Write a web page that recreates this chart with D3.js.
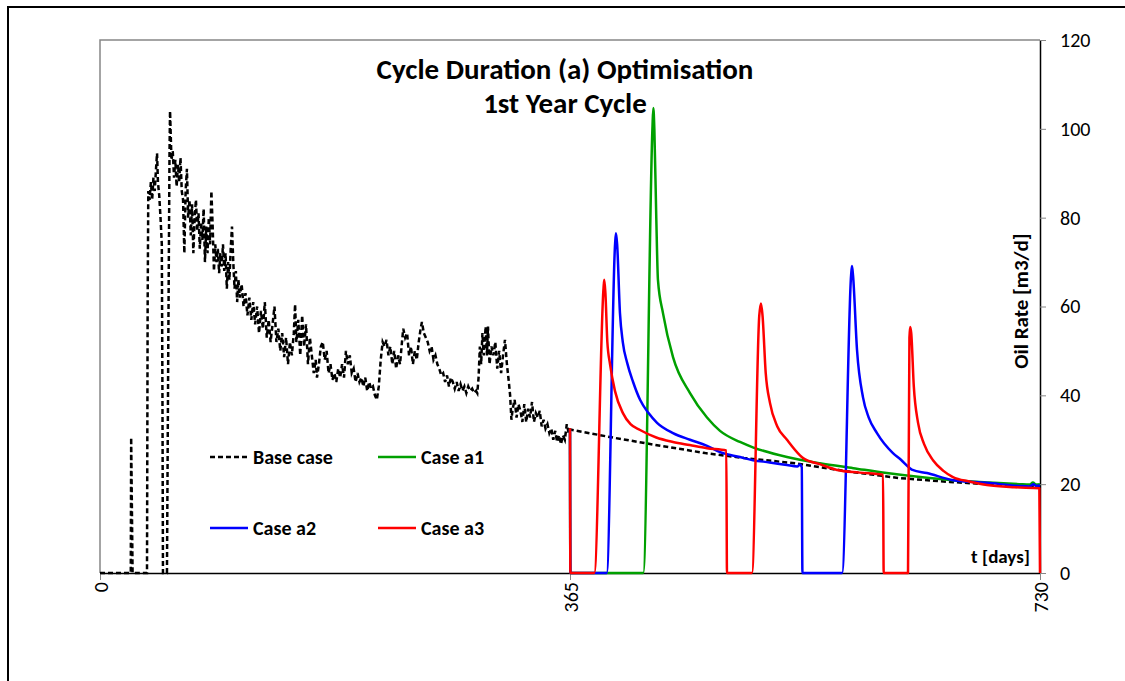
<!DOCTYPE html>
<html>
<head>
<meta charset="utf-8">
<script src="https://cdn.jsdelivr.net/npm/d3@7"></script>
<style>
  body { margin: 0; background: #fff; }
  svg { display: block; font-family: Carlito, Lato, "Open Sans", sans-serif; }
</style>
</head>
<body>
<svg id="chart" width="1125" height="681"></svg>
<script>
// Series: [day, oil rate m3/d]
const baseCase = [
  [0, 0], [23.9, 0], [24.2, 30.5], [25.3, 0], [36.5, 0], [37, 60], [37.5, 86], [38.5, 84], [39.5, 88],
  [40.5, 84], [41.5, 89], [42.5, 86], [43.5, 91], [44.3, 94.5], [45, 88], [46, 85], [47, 80], [48, 74],
  [48.5, 40], [48.9, 0], [52, 0], [53, 50], [54, 95], [54.4, 104],
  [55.5, 93], [56.5, 95], [57.5, 89], [58.5, 93], [59.5, 87], [60.5, 92], [61.5, 88], [62.5, 93.5],
  [63.5, 86], [64.5, 84], [65.5, 72], [66.5, 86], [67.5, 91], [68.5, 80], [69.5, 84], [70.5, 76],
  [71.5, 83], [72.5, 72], [73.5, 80], [74.5, 84], [75.5, 77], [76.5, 81], [77.5, 73], [78.5, 79],
  [79.5, 75], [80.5, 82], [81.5, 70], [82.5, 78], [83.5, 72], [84.5, 80], [85.5, 74], [86.5, 86],
  [87.5, 78], [88.5, 68], [89.5, 74], [90.5, 70], [91.5, 73], [92.5, 67.5], [93.5, 72], [94.5, 69],
  [95.5, 74], [96.5, 68], [97.5, 72], [98.5, 64], [99.5, 70], [100.5, 66], [101.5, 73], [102.5, 78],
  [103.5, 70], [104.5, 64], [105.5, 68], [106.5, 61], [107.5, 66], [108.5, 62], [110, 65], [111.5, 60],
  [113, 63], [114.5, 58], [116, 62], [117.5, 57], [119, 61], [120.5, 56], [122, 60], [123.5, 54],
  [125, 59], [126.5, 55], [128, 61], [129.5, 53], [131, 57], [132.5, 52], [134, 56], [135.5, 60],
  [137, 52], [138.5, 55], [140, 50], [141.5, 54], [143, 48.6], [144.5, 53], [146, 47], [147.5, 52],
  [149, 49], [150.5, 54], [151.5, 60.5], [152.5, 52], [154, 57], [155.5, 49], [157, 58], [158.5, 51],
  [160, 56], [161.5, 47], [163, 53], [164.5, 49], [166, 45], [167.5, 48], [168.5, 44], [170, 47],
  [171.5, 51], [173, 52], [174.5, 48], [176, 50], [177.5, 45], [179, 47], [180.5, 43.5], [182, 45],
  [183.5, 43], [185, 46], [186.5, 44], [188, 47], [189.5, 44], [191, 50], [192.5, 47], [194, 49],
  [195.5, 45], [197, 46], [198.5, 43], [200, 45], [201.5, 43], [203, 44], [204.5, 42], [206, 44],
  [207.5, 41], [209, 43], [210.5, 41.5], [212, 42], [213.5, 40], [215, 39], [216.5, 42], [218, 48],
  [219.5, 52], [221, 51], [222.5, 52.5], [224, 49], [225.5, 51], [227, 47], [228.5, 50], [230, 46],
  [231.5, 49], [233, 47], [234.5, 52], [235.5, 55], [237, 53], [238.5, 54], [240, 49], [241.5, 51],
  [243, 47], [244.5, 50], [246, 48], [247.5, 52], [249, 55], [250, 56.5], [251.5, 54], [253, 53],
  [254.5, 52], [256, 50], [257.5, 51], [259, 48], [260.5, 49], [262, 47], [263.5, 46], [265, 44.5],
  [266.5, 45], [268, 43], [269.5, 44.5], [271, 42], [272.5, 44], [274, 43], [275.5, 41.5], [277, 43],
  [278.5, 41], [280, 42.5], [281.5, 41], [283, 42], [284.5, 40.5], [286, 42], [287.5, 41], [289, 41.5],
  [290.5, 40.5], [292, 41], [293, 40.5], [294, 44], [295, 51], [296, 47], [297, 54], [298, 49],
  [299.5, 55.5], [300.5, 49], [301.3, 55.5], [302.5, 47], [304, 51], [305.5, 49], [307, 52], [308.5, 46],
  [310, 50], [311.5, 45], [313, 49], [314.5, 52.5], [316, 47], [317.5, 43], [318.5, 40], [319.5, 34.5],
  [320.5, 37], [322, 39], [323.5, 35], [325, 38], [326.5, 36.5], [328, 34], [329.5, 38], [331, 34],
  [332.5, 37], [334, 35], [335.5, 38.5], [337, 34], [338.5, 36], [340, 35], [341.5, 36.5], [343, 33],
  [344.5, 34.5], [346, 32.5], [347.5, 33.5], [349, 31.5], [350.5, 32.5], [352, 30], [353.5, 32],
  [355, 29.5], [356.5, 31], [358, 29], [359.5, 31], [361, 30], [362.5, 33.5], [364, 31.5], [365, 32.3],
  [400, 30.4], [430, 28.9], [470, 27], [500, 25.9], [540, 24.7], [580, 22.9], [620, 21.4],
  [660, 20.5], [700, 19.8], [730, 19.5]
];

const caseA1 = [
  [365, 32.3], [365.3, 0], [421.9, 0], [429, 100], [429.7, 104.7], [430.5, 100], [432, 80], [433.3, 66],
  [437.2, 58.5], [445, 48.6], [458.2, 40.5], [471.4, 35], [481.5, 32], [497, 29.5], [507, 28.3],
  [533.5, 26.1], [559, 24.7], [585, 23.6], [611, 22.5], [637, 21.6], [662, 20.9], [689, 20.4],
  [714, 20], [722, 19.9], [724.5, 20.4], [727, 19.9], [730, 20]
];

const caseA2 = [
  [365, 32.3], [365.3, 0], [393.5, 0], [400, 74], [400.7, 76.5], [401.6, 74], [403.8, 58.5], [406, 52],
  [409.4, 47.3], [414, 43], [419.4, 39], [426, 36], [432.6, 33.8], [445, 31.5], [458.2, 30], [471, 28.7],
  [481.5, 27.2], [497, 26.1], [507.1, 25.4], [520, 24.9], [533.5, 24.3], [541.5, 24], [543.5, 24.4],
  [545, 23.8], [545.5, 0], [576.3, 0], [583.3, 67], [584, 69.1], [584.8, 67], [587.9, 50.2], [592.5, 39.6],
  [597, 35], [603.4, 31.5], [615.8, 27], [622, 25.5], [629, 23.6], [631, 23.2], [642.2, 22.5],
  [662.4, 20.9], [688.8, 20.3], [714.5, 19.6], [722, 19.5], [725, 20], [727, 19.6], [730, 19.7]
];

const caseA3 = [
  [365, 32.6], [365.3, 0], [383.9, 0], [391, 64], [391.6, 66], [392.5, 63], [394, 52], [396.1, 47],
  [399.9, 41], [406.1, 36], [412, 33.5], [419.4, 32.2], [432, 30.5], [445, 29.5], [458, 28.8],
  [471.4, 28.1], [486.4, 27.6], [486.9, 0], [506.3, 0], [512, 58], [513.3, 60.7], [514.5, 58],
  [517, 45], [520.3, 38.3], [526, 33], [533.5, 30], [543.6, 26.5], [546, 25.9], [559, 24.5],
  [572.4, 23.2], [590, 22.6], [608.1, 22.1], [608.6, 0], [627.5, 0], [628.6, 53], [629.2, 55.4],
  [630, 54], [632, 42], [635.3, 33.8], [640, 29], [646.9, 25.4], [655, 23], [662.4, 21.6], [675, 20.6],
  [688.8, 19.8], [710, 19.3], [729.5, 19.1], [730, 0]
];

const seriesNames = ['Base case', 'Case a1', 'Case a2', 'Case a3'];
const seriesColors = ['#000000', '#00a000', '#0000ff', '#ff0000'];
const xTicks = [0, 365, 730];
const yTicks = [0, 20, 40, 60, 80, 100, 120];

const svg = d3.select('#chart');

// outer frame (runs off the right and bottom edges)
svg.append('rect')
  .attr('x', 8).attr('y', 7).attr('width', 1200).attr('height', 700)
  .attr('fill', 'none').attr('stroke', '#000').attr('stroke-width', 2);

const x = d3.scaleLinear().domain([0, 730]).range([100, 1040]);
const y = d3.scaleLinear().domain([0, 120]).range([573, 40]);

// plot area border (grey top + left)
svg.append('path')
  .attr('d', `M${x(0)},${y(0)}V${y(120)}H${x(730)}`)
  .attr('fill', 'none').attr('stroke', '#868686').attr('stroke-width', 1.5);

// axes
const yAxis = svg.append('g')
  .attr('transform', `translate(${x(730)},0)`)
  .call(d3.axisRight(y).tickValues(yTicks).tickSize(6).tickSizeOuter(0).tickPadding(14));
yAxis.select('.domain').attr('stroke', '#000').attr('stroke-width', 1.5);
yAxis.selectAll('.tick line').attr('stroke', '#868686');
yAxis.selectAll('.tick text').attr('font-size', 20).attr('fill', '#000')
  .attr('font-family', 'Carlito, Lato, sans-serif');

const xAxis = svg.append('g')
  .attr('transform', `translate(0,${y(0)})`)
  .call(d3.axisBottom(x).tickValues(xTicks).tickSize(7).tickSizeOuter(0));
xAxis.select('.domain').attr('stroke', '#000').attr('stroke-width', 1.5);
xAxis.selectAll('.tick line').attr('stroke', '#868686');
xAxis.selectAll('.tick text')
  .attr('font-size', 20).attr('fill', '#000')
  .attr('font-family', 'Carlito, Lato, sans-serif')
  .attr('transform', 'rotate(-90)')
  .attr('text-anchor', 'end')
  .attr('dy', '0.35em')
  .attr('x', -9).attr('y', 0);

// lines
const baseLine = d3.line().x(d => x(d[0])).y(d => y(d[1]));
const smoothLine = d3.line().x(d => x(d[0])).y(d => y(d[1])).curve(d3.curveMonotoneX);

svg.append('path')
  .datum(baseCase)
  .attr('d', baseLine)
  .attr('fill', 'none').attr('stroke', seriesColors[0])
  .attr('stroke-width', 2.5).attr('stroke-dasharray', '5,3');

[caseA1, caseA2, caseA3].forEach((data, i) => {
  svg.append('path')
    .datum(data)
    .attr('d', smoothLine)
    .attr('fill', 'none').attr('stroke', seriesColors[i + 1])
    .attr('stroke-width', 2.5).attr('stroke-linejoin', 'round');
});

// title
svg.append('text')
  .attr('x', 565).attr('y', 79)
  .attr('text-anchor', 'middle').attr('font-size', 29).attr('font-weight', 'bold')
  .text('Cycle Duration (a) Optimisation');
svg.append('text')
  .attr('x', 565).attr('y', 113)
  .attr('text-anchor', 'middle').attr('font-size', 29).attr('font-weight', 'bold')
  .text('1st Year Cycle');

// axis titles
svg.append('text')
  .attr('transform', 'translate(1028,301) rotate(-90)')
  .attr('text-anchor', 'middle').attr('font-size', 21).attr('font-weight', 'bold')
  .text('Oil Rate [m3/d]');
svg.append('text')
  .attr('x', 1030).attr('y', 563)
  .attr('text-anchor', 'end').attr('font-size', 19).attr('font-weight', 'bold')
  .text('t [days]');

// legend, two rows of two
const legendPos = [[210, 457], [378, 457], [210, 528], [378, 528]];
seriesNames.forEach((name, i) => {
  const [lx, ly] = legendPos[i];
  svg.append('line')
    .attr('x1', lx).attr('x2', lx + 38).attr('y1', ly).attr('y2', ly)
    .attr('stroke', seriesColors[i]).attr('stroke-width', 2.5)
    .attr('stroke-dasharray', i === 0 ? '5,3' : null);
  svg.append('text')
    .attr('x', lx + 43).attr('y', ly + 7)
    .attr('font-size', 20).attr('font-weight', 'bold')
    .text(name);
});
</script>
</body>
</html>
